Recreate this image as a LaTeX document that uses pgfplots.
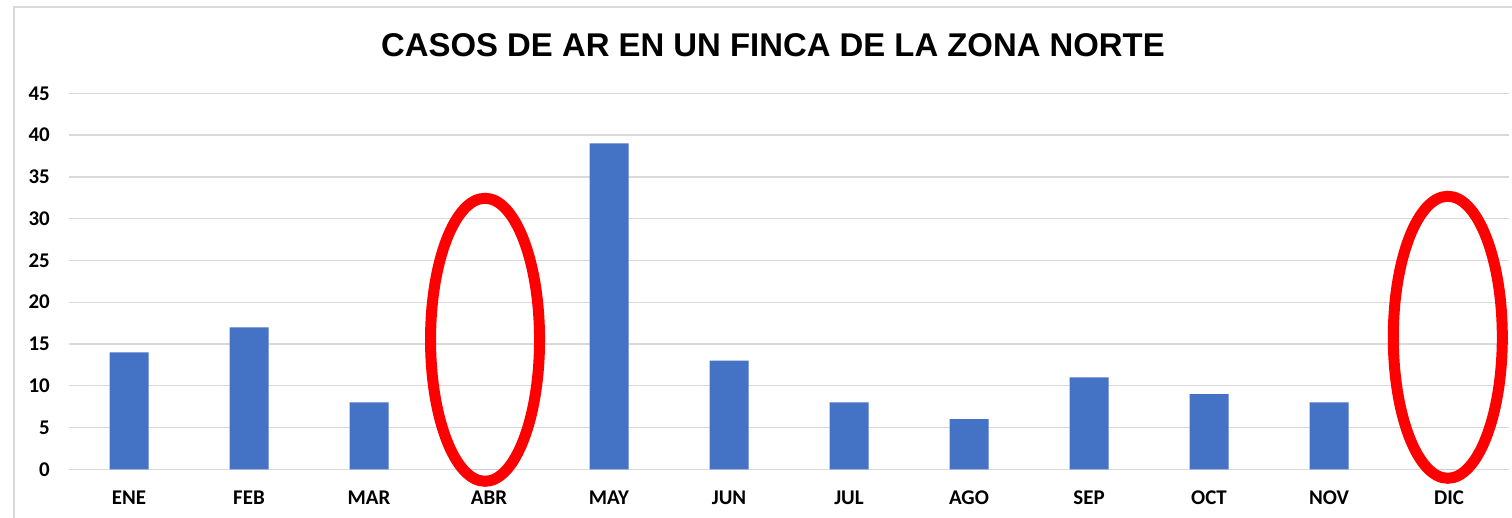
\documentclass[border=0pt]{standalone}
\usepackage{pgfplots}
\pgfplotsset{compat=1.18}
\usepackage{fontspec}
\setmainfont{Carlito}
\newfontfamily\titlefont{Liberation Sans}
\definecolor{barBlue}{HTML}{4472C4}
\definecolor{gridGray}{HTML}{D9D9D9}

\begin{document}
\begin{tikzpicture}
% chart frame
\draw[gridGray, line width=1.2bp] (14bp,-20bp) rectangle (1540bp,511bp);

\begin{axis}[
  at={(69bp,48.7bp)}, anchor=south west,
  scale only axis,
  width=1440bp, height=376bp,
  xmin=-0.5, xmax=11.5,
  ymin=0, ymax=45,
  ytick={0,5,...,45},
  xtick={0,...,11},
  xticklabels={ENE,FEB,MAR,ABR,MAY,JUN,JUL,AGO,SEP,OCT,NOV,DIC},
  ymajorgrids,
  grid style={gridGray, line width=1.3bp},
  axis line style={draw=none},
  major tick length=0pt,
  /pgf/number format/assume math mode=true,
  ticklabel style={font=\fontsize{21}{25}\selectfont\bfseries, text=black},
  yticklabel style={inner sep=0pt, xshift=-19bp},
  xticklabel style={inner sep=0pt, anchor=north, yshift=-21bp},
  clip=false,
]
\addplot[ybar, bar width=39bp, fill=barBlue, draw=none]
  coordinates {(0,14)(1,17)(2,8)(3,0)(4,39)(5,13)(6,8)(7,6)(8,11)(9,9)(10,8)(11,0)};

% highlighted months without cases
\draw[red, line width=11bp] (axis cs:2.967,15.5) ellipse [x radius=54.5bp, y radius=141.5bp];
\draw[red, line width=11bp] (axis cs:10.99,15.8) ellipse [x radius=54.5bp, y radius=141bp];
\end{axis}

\node[anchor=base, inner sep=0pt, font=\titlefont\fontsize{33}{40}\selectfont\bfseries]
  at (773bp,461bp) {CASOS DE AR EN UN FINCA DE LA ZONA NORTE};

\pgfresetboundingbox
\useasboundingbox (0,0) rectangle (1512bp,518bp);
\end{tikzpicture}
\end{document}
